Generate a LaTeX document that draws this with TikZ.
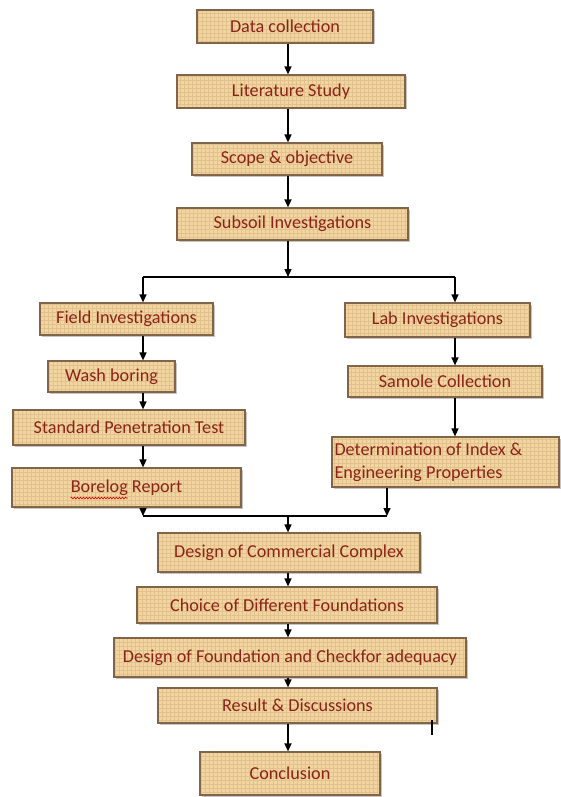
\documentclass[tikz,border=0pt]{standalone}
\usepackage{fontspec}
\setmainfont{Carlito}
\usetikzlibrary{arrows.meta,shadows,decorations.pathmorphing,calc}
\definecolor{boxfill}{RGB}{242,213,160}
\definecolor{boxline}{RGB}{130,100,72}
\definecolor{gridc}{RGB}{226,194,140}
\definecolor{txt}{RGB}{140,35,25}
\begin{document}
\begin{tikzpicture}[x=1pt,y=-1pt,
  box/.style={draw=boxline, line width=1.2pt, fill=boxfill, inner sep=0pt, text=txt,
    font=\fontsize{18.2}{23}\selectfont,
    drop shadow={shadow xshift=1.5pt,shadow yshift=-1.5pt,fill=black!50,opacity=0.45},
    path picture={\draw[gridc, line width=0.3pt, step=4pt] (path picture bounding box.south west) grid (path picture bounding box.north east);}},
  arr/.style={-{Triangle[length=8pt,width=7pt]}, line width=1.4pt, black},
  ln/.style={line width=1.4pt, black}]
\fill[white] (0,0) rectangle (561,797);
\useasboundingbox (0,0) rectangle (561,797);

% main column
\node[box, minimum width=176pt, minimum height=33pt] (dc) at (285,26.5) {Data collection};
\node[box, minimum width=228pt, minimum height=33pt] (lit) at (291,91.5) {Literature Study};
\node[box, minimum width=190pt, minimum height=32pt] (scope) at (287,159) {Scope \& objective};
\node[box, minimum width=231pt, minimum height=32pt] (sub) at (292.5,224) {Subsoil Investigations};

% left column
\node[box, minimum width=173pt, minimum height=32pt] (field) at (126.5,319) {Field Investigations};
\node[box, minimum width=127pt, minimum height=31pt] (wash) at (111.5,376.5) {Wash boring};
\node[box, minimum width=232pt, minimum height=35pt] (spt) at (129,427.5) {Standard Penetration Test};
\node[box, minimum width=229pt, minimum height=39pt] (bore) at (126.5,487.5) {Borelog Report};

% right column
\node[box, minimum width=185pt, minimum height=34pt] (lab) at (437.5,320) {Lab Investigations};
\node[box, minimum width=194pt, minimum height=31pt] (sample) at (445,381.5) {Samole Collection};
\node[box, minimum width=227pt, minimum height=50pt, text width=222pt, align=flush left] (det) at (445.5,462) {Determination of Index \&\\Engineering Properties};

% lower column
\node[box, minimum width=262pt, minimum height=39pt] (dcc) at (289,552.5) {Design of Commercial Complex};
\node[box, minimum width=300pt, minimum height=36pt] (choice) at (287,605) {Choice of Different Foundations};
\node[box, minimum width=352pt, minimum height=39pt] (dfc) at (290,657.5) {Design of Foundation and Checkfor adequacy};
\node[box, minimum width=279pt, minimum height=35pt] (res) at (297.5,705.5) {Result \& Discussions};
\node[box, minimum width=180pt, minimum height=43pt] (conc) at (290,773.5) {Conclusion};

% helper coordinates
\coordinate (mx) at (288,0);
\coordinate (sl) at (143,277);
\coordinate (sr) at (455,277);
\coordinate (ml) at (143,516);
\coordinate (mr) at (387,516);

% connectors
\draw[arr] (dc.south -| mx) -- (lit.north -| mx);
\draw[arr] (lit.south -| mx) -- (scope.north -| mx);
\draw[arr] (scope.south -| mx) -- (sub.north -| mx);
\draw[arr] (sub.south -| mx) -- (mx |- sl);
\draw[ln] (sl) -- (sr);
\draw[arr] (sl) -- (field.north -| sl);
\draw[arr] (sr) -- (lab.north -| sr);

\draw[arr] (field.south -| sl) -- (wash.north -| sl);
\draw[arr] (wash.south -| sl) -- (spt.north -| sl);
\draw[arr] (spt.south -| sl) -- (bore.north -| sl);
\draw[arr] (bore.south -| ml) -- (ml);

\draw[arr] (lab.south -| sr) -- (sample.north -| sr);
\draw[arr] (sample.south -| sr) -- (det.north -| sr);
\draw[arr] (det.south -| mr) -- (mr);

\draw[ln] (ml) -- (mr);
\draw[arr] (mx |- ml) -- (dcc.north -| mx);
\draw[arr] (dcc.south -| mx) -- (choice.north -| mx);
\draw[arr] (choice.south -| mx) -- (dfc.north -| mx);
\draw[arr] (dfc.south -| mx) -- (res.north -| mx);
\draw[arr] (res.south -| mx) -- (conc.north -| mx);

% spell-check squiggle under "Borelog"
\draw[red!85!black, line width=0.6pt, decorate, decoration={snake, amplitude=0.9pt, segment length=3pt}]
  ($(bore.center)+(-56,10.5)$) -- ($(bore.center)+(1,10.5)$);

% text cursor mark
\draw[line width=2.2pt, black] (432,720) -- (432,735);
\end{tikzpicture}
\end{document}
